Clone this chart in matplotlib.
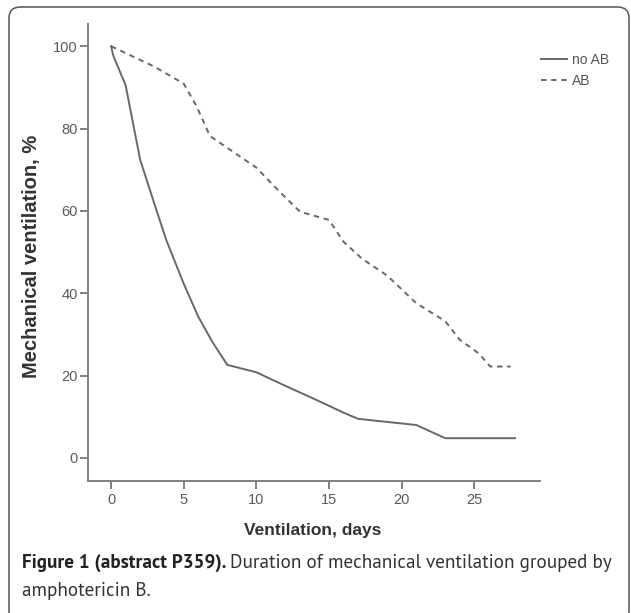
import matplotlib.pyplot as plt
from matplotlib import font_manager
from matplotlib.patches import FancyBboxPatch

# survival-type curves
days_noab = [0, 0.15, 1, 2, 3, 3.8, 5, 6, 7, 8, 10, 12, 14, 16, 17, 21, 23, 27.8]
pct_noab = [100, 97.7, 90.5, 72.4, 61.5, 52.9, 42.3, 34.3, 28, 22.6, 20.8, 17.5, 14.3, 11, 9.5, 8.0, 4.8, 4.8]

days_ab = [0, 3, 5, 5.9, 6.8, 10, 11.5, 13, 15, 16, 17.3, 19, 21, 23, 24, 25.3, 26.1, 27.5]
pct_ab = [100, 95, 90.9, 85.3, 78.2, 70.5, 65, 59.8, 57.8, 52.5, 48.3, 44.3, 37.6, 33.2, 28.7, 25.4, 22.2, 22.2]

xticks = [0, 5, 10, 15, 20, 25]
yticks = [0, 20, 40, 60, 80, 100]


def pick(cands):
    avail = set(f.name for f in font_manager.fontManager.ttflist)
    for c in cands:
        if c in avail:
            return c
    return 'DejaVu Sans'


regular = pick(['Liberation Sans', 'Arimo', 'Arial', 'DejaVu Sans'])
cap_font = pick(['Myriad Pro', 'PT Sans', 'Source Sans 3', 'Source Sans Pro',
                 'Open Sans'])

W, H = 631, 613
fig = plt.figure(figsize=(W / 100, H / 100), dpi=100)

# rounded frame around figure + caption
frame = FancyBboxPatch((9 / W, -10 / H), 620 / W, (H - 7 + 10) / H,
                       boxstyle="round,pad=0,rounding_size=0.018",
                       transform=fig.transFigure, fill=False,
                       edgecolor='#555555', linewidth=1.1)
fig.patches.append(frame)

ax = fig.add_axes([88.3 / W, 1 - 481 / H, (540 - 88.3) / W, (481 - 24) / H])
line_col = '#686868'
ax.plot(days_noab, pct_noab, color=line_col, lw=1.4, label='no AB')
ax.plot(days_ab, pct_ab, color=line_col, lw=1.4, linestyle=(0, (2.8, 2.4)), label='AB')

ax.set_xlim(-1.57, 29.52)
ax.set_ylim(-5.6, 105.4)
ax.set_xticks(xticks)
ax.set_yticks(yticks)

for s in ['top', 'right']:
    ax.spines[s].set_visible(False)
for s in ['left', 'bottom']:
    ax.spines[s].set_color('#808080')
    ax.spines[s].set_linewidth(1.4)

ax.tick_params(direction='out', length=6, width=1.4, color='#808080',
               labelcolor='#5a5a5a', labelsize=10.5)
ax.tick_params(axis='y', pad=1.5)
ax.tick_params(axis='x', pad=3)
for lab in ax.get_xticklabels() + ax.get_yticklabels():
    lab.set_family(regular)

# axis titles placed directly in figure pixels
fig.text(313 / W, 1 - 530 / H, 'Ventilation, days', fontsize=12.5,
         fontweight='bold', family=regular, color='#333333',
         ha='center', va='center')
fig.text(32 / W, 1 - 256 / H, 'Mechanical ventilation, %', fontsize=14.5,
         fontweight='bold', family=regular, color='#333333',
         ha='center', va='center', rotation=90)

leg = ax.legend(loc='upper left',
                bbox_to_anchor=(541 / W, 1 - 53 / H),
                bbox_transform=fig.transFigure,
                frameon=False, handlelength=1.9, handletextpad=0.3,
                labelspacing=0.5, borderaxespad=0, borderpad=0,
                prop={'family': regular, 'size': 10})
for t in leg.get_texts():
    t.set_color('#555555')

# caption: bold lead-in followed by regular text, sized so line 1 ends near x=610
r = fig.canvas.get_renderer()
y1 = 1 - 568 / H
cap_size = 12.0
for _ in range(3):
    t1 = fig.text(22 / W, y1, 'Figure 1 (abstract P359).', fontsize=cap_size,
                  fontweight='bold', family=cap_font, color='#222222', va='baseline')
    bb = t1.get_window_extent(renderer=r)
    t2 = fig.text(bb.x1 / W + 4 / W, y1, 'Duration of mechanical ventilation grouped by',
                  fontsize=cap_size, family=cap_font, color='#333333', va='baseline')
    bb2 = t2.get_window_extent(renderer=r)
    span = bb2.x1 - 22
    new_size = cap_size * (610 - 22) / span
    if abs(new_size - cap_size) < 0.05:
        break
    t1.remove()
    t2.remove()
    cap_size = new_size
fig.text(22 / W, 1 - 596 / H, 'amphotericin B.', fontsize=cap_size,
         family=cap_font, color='#333333', va='baseline')

fig.savefig('out.png', dpi=100)
